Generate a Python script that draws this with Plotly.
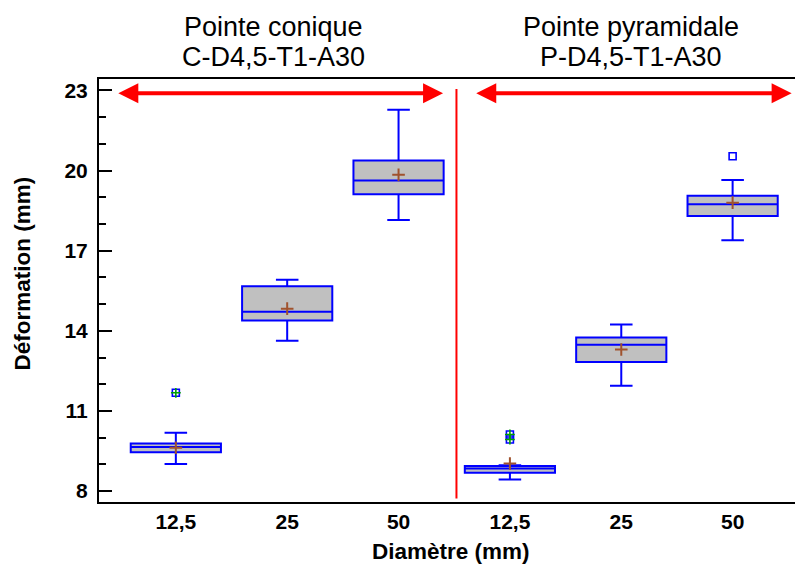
import plotly.graph_objects as go

# ---------------- data ----------------
positions = [0, 1, 2, 3, 4, 5]
diam_labels = ["12,5", "25", "50", "12,5", "25", "50"]
q1 = [9.45, 14.39, 19.11, 8.69, 12.83, 18.30]
median = [9.65, 14.71, 19.63, 8.84, 13.48, 18.74]
q3 = [9.78, 15.67, 20.38, 8.94, 13.75, 19.06]
lower_fence = [9.01, 13.63, 18.15, 8.43, 11.94, 17.39]
upper_fence = [10.18, 15.91, 22.28, 8.97, 14.24, 19.65]
means = [9.62, 14.83, 19.84, 9.03, 13.30, 18.80]

outlier_x = [0, 3, 3, 5]
outlier_y = [11.68, 10.12, 9.93, 20.54]
far_x = [0, 3, 3]
far_y = [11.68, 10.12, 9.93]

group_titles = [("Pointe conique", "C-D4,5-T1-A30"), ("Pointe pyramidale", "P-D4,5-T1-A30")]
group_title_x = [0.88, 4.09]
separator_x = 2.52
arrow_spans = [(-0.53, 2.40), (2.684, 5.53)]
arrow_y = 22.9

Y_RANGE = [7.59, 23.43]
X_RANGE = [-0.69, 5.632]

BLUE = "#0000FF"
RED = "#FF0000"
FONT = "Liberation Sans"

fig = go.Figure()

fig.add_trace(go.Box(
    x=positions, q1=q1, median=median, q3=q3,
    lowerfence=lower_fence, upperfence=upper_fence,
    width=0.81, whiskerwidth=0.25,
    fillcolor="#C0C0C0", line=dict(color=BLUE, width=2),
    boxpoints=False, showlegend=False, hoverinfo="skip",
))

fig.add_trace(go.Scatter(
    x=positions, y=means, mode="markers", showlegend=False,
    marker=dict(symbol="cross-thin", size=9, line=dict(color="#A0522D", width=2)),
))

fig.add_trace(go.Scatter(
    x=outlier_x, y=outlier_y, mode="markers", showlegend=False,
    marker=dict(symbol="square-open", size=7, color=BLUE, line=dict(color=BLUE, width=1.6)),
))
fig.add_trace(go.Scatter(
    x=far_x, y=far_y, mode="markers", showlegend=False,
    marker=dict(symbol="cross-thin", size=7, line=dict(color="#00A000", width=1.6)),
))

# dummy trace for right-side tick axis
fig.add_trace(go.Scatter(x=[], y=[], yaxis="y2", showlegend=False))

# separator line
fig.add_shape(type="line", xref="x", yref="y", x0=separator_x, x1=separator_x,
              y0=7.72, y1=23.06, line=dict(color=RED, width=2))

# arrows
for (a, b) in arrow_spans:
    fig.add_annotation(x=b, y=arrow_y, ax=a, ay=arrow_y, xref="x", yref="y",
                       axref="x", ayref="y", text="", showarrow=True,
                       arrowhead=2, startarrowhead=2, arrowside="end+start",
                       arrowwidth=4, arrowsize=1, startarrowsize=1,
                       arrowcolor=RED, standoff=0, startstandoff=0)

# group titles
for (l1, l2), gx in zip(group_titles, group_title_x):
    fig.add_annotation(x=gx, xref="x", y=1.124, yref="paper", text=l1, showarrow=False,
                       font=dict(family=FONT, size=27, color="black"), yanchor="middle")
    fig.add_annotation(x=gx, xref="x", y=1.052, yref="paper", text=l2, showarrow=False,
                       font=dict(family=FONT, size=27, color="black"), yanchor="middle")

# axis titles
fig.add_annotation(x=0.5, xref="paper", y=-0.117, yref="paper", text="<b>Diamètre (mm)</b>",
                   showarrow=False, font=dict(family=FONT, size=22.5, color="black"),
                   xanchor="center", yanchor="middle")
fig.add_annotation(x=-0.110, xref="paper", y=0.539, yref="paper", text="<b>Déformation (mm)</b>",
                   showarrow=False, textangle=-90, font=dict(family=FONT, size=22.5, color="black"),
                   xanchor="center", yanchor="middle")

# page body has an 8px offset: plot area lands at screen x 99..803, y 79..502
fig.update_layout(
    width=803, height=565,
    margin=dict(l=91, r=8, t=71, b=71, autoexpand=False),
    paper_bgcolor="white", plot_bgcolor="white",
    font=dict(family=FONT, color="black"),
    xaxis=dict(
        range=X_RANGE, tickmode="array", tickvals=positions, ticktext=diam_labels,
        showgrid=False, zeroline=False, showline=True, mirror=True,
        linecolor="black", linewidth=2, ticks="", automargin=False,
        tickfont=dict(family=FONT, size=21, weight="bold"),
        ticklabelstandoff=0,
    ),
    yaxis=dict(
        range=Y_RANGE, tick0=8, dtick=3, showgrid=False, zeroline=False,
        showline=True, linecolor="black", linewidth=2, automargin=False,
        ticks="inside", ticklen=13, tickwidth=2, tickcolor="black",
        minor=dict(dtick=1, tick0=8, ticks="inside", ticklen=7, tickwidth=1.5, tickcolor="black", showgrid=False),
        tickfont=dict(family=FONT, size=21, weight="bold"),
        ticklabelstandoff=5,
    ),
    yaxis2=dict(
        range=Y_RANGE, overlaying="y", side="right", anchor="x", tick0=8, dtick=3,
        showgrid=False, zeroline=False, showline=False, showticklabels=False, automargin=False,
        ticks="inside", ticklen=6, tickwidth=2, tickcolor="black",
        minor=dict(dtick=1, tick0=8, ticks="inside", ticklen=2, tickwidth=1.5, tickcolor="black", showgrid=False),
    ),
)

fig.write_html("out.html")
